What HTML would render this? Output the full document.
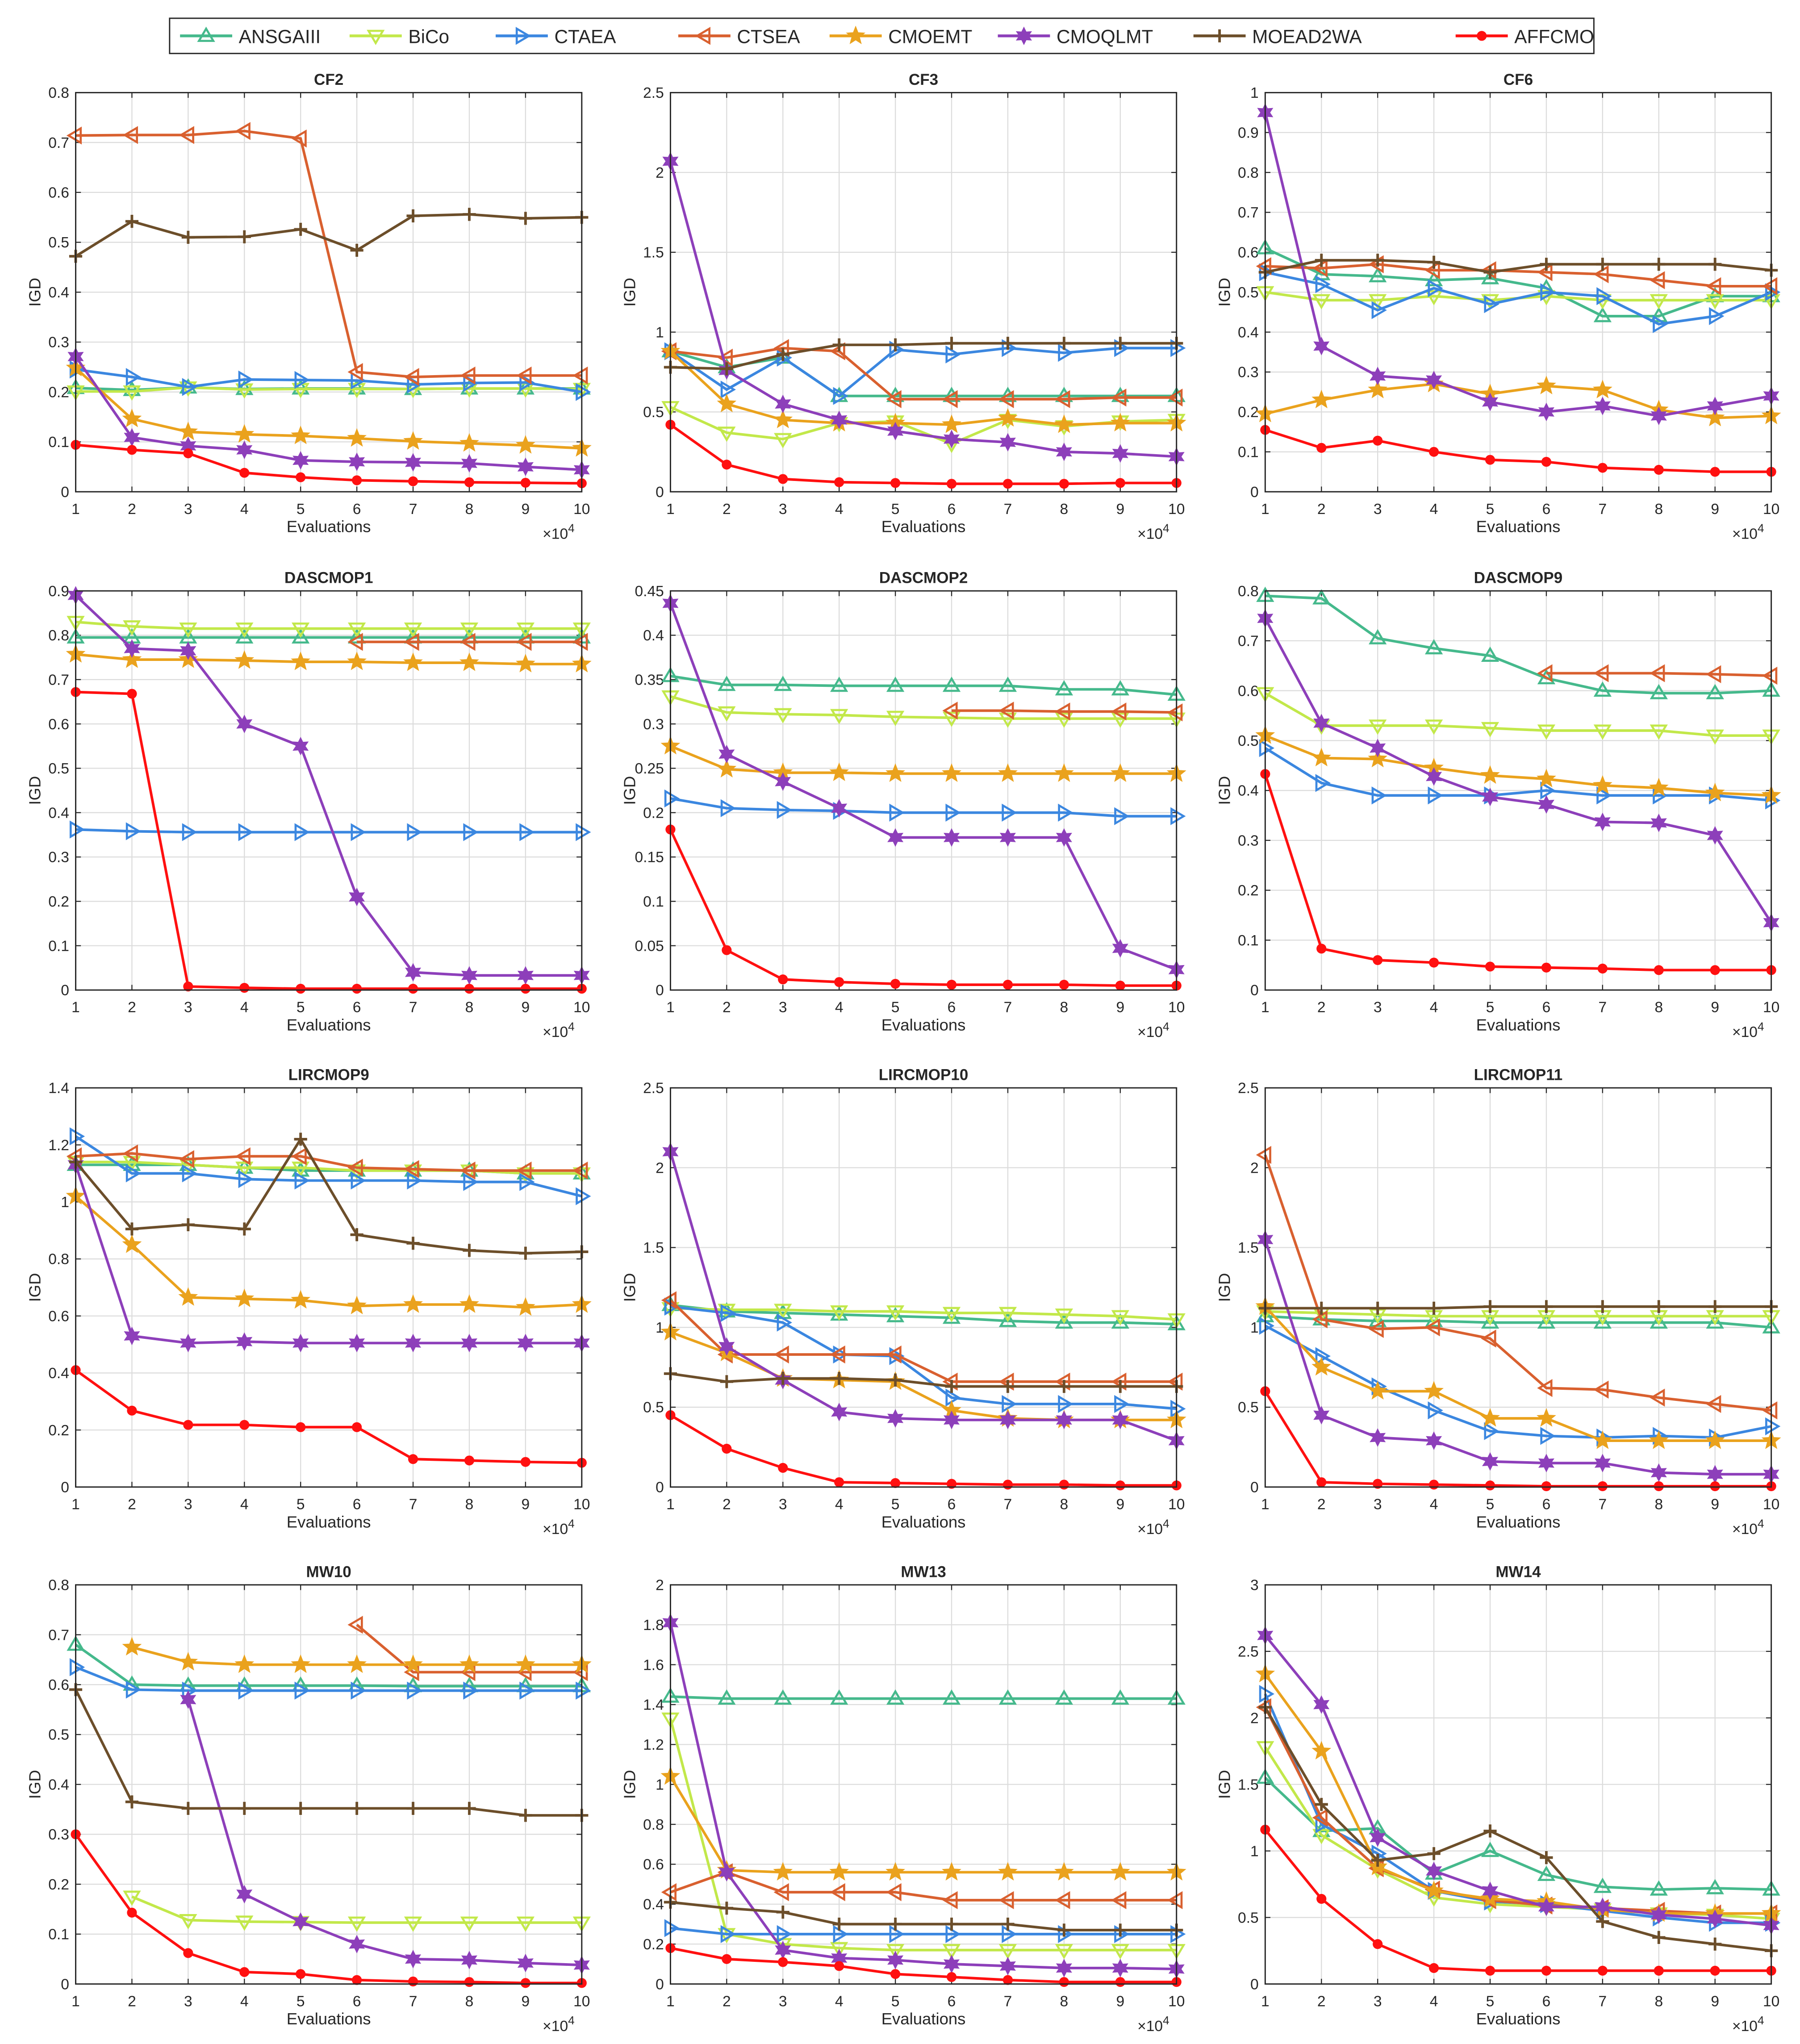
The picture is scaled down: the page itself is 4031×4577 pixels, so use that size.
<!DOCTYPE html>
<html><head><meta charset="utf-8"><style>
html,body{margin:0;padding:0;background:#fff}
svg{display:block}
text{font-family:"Liberation Sans",Arial,sans-serif;fill:#262626}
</style></head><body>
<svg id="fig" width="4031" height="4577" viewBox="0 0 1380 1567" xmlns="http://www.w3.org/2000/svg">
<rect width="1380" height="1567" fill="#fff"/>
</svg>
<script>
const algNames=["ANSGAIII","BiCo","CTAEA","CTSEA","CMOEMT","CMOQLMT","MOEAD2WA","AFFCMO"];
const algColors=["#45b98c","#c2e84a","#3b87e0","#d9602f","#eaa21d","#8d3fba","#6c4e2a","#ff1010"];
const algMarkers=["up","down","right","left","star","hex","plus","ast"];
const xVals=[1,2,3,4,5,6,7,8,9,10];
const N=null;
const titles=["CF2","CF3","CF6","DASCMOP1","DASCMOP2","DASCMOP9","LIRCMOP9","LIRCMOP10","LIRCMOP11","MW10","MW13","MW14"];
const yMaxes=[0.8,2.5,1,0.9,0.45,0.8,1.4,2.5,2.5,0.8,2,3];
const ySteps=[0.1,0.5,0.1,0.1,0.05,0.1,0.2,0.5,0.5,0.1,0.2,0.5];
const cf2=[
[.208,.204,.209,.206,.207,.207,.206,.207,.207,.207],
[.201,.201,.209,.205,.206,.206,.206,.207,.207,.206],
[.245,.230,.210,.225,.224,.223,.215,.218,.219,.200],
[.714,.715,.715,.723,.708,.240,.230,.233,.233,.233],
[.248,.146,.120,.115,.112,.107,.101,.097,.093,.087],
[.271,.109,.092,.084,.063,.060,.059,.057,.050,.044],
[.472,.542,.510,.511,.526,.484,.553,.556,.548,.550],
[.094,.084,.077,.038,.029,.023,.021,.019,.018,.017]];
const cf3=[
[.88,.78,.84,.60,.60,.60,.60,.60,.60,.60],
[.53,.37,.33,.43,.44,.30,.45,.41,.44,.45],
[.88,.64,.84,.60,.89,.86,.90,.87,.90,.90],
[.88,.84,.90,.88,.58,.58,.58,.58,.59,.59],
[.88,.55,.45,.43,.43,.42,.46,.42,.43,.43],
[2.07,.76,.55,.45,.38,.33,.31,.25,.24,.22],
[.78,.77,.86,.92,.92,.93,.93,.93,.93,.93],
[.42,.17,.08,.06,.055,.05,.05,.05,.055,.055]];
const cf6=[
[.61,.545,.54,.53,.535,.51,.44,.44,.49,.49],
[.50,.48,.48,.49,.48,.49,.48,.48,.48,.48],
[.55,.52,.455,.51,.47,.50,.49,.42,.44,.50],
[.565,.56,.57,.555,.555,.55,.545,.53,.515,.515],
[.195,.23,.255,.27,.245,.265,.255,.205,.185,.19],
[.95,.365,.29,.28,.225,.20,.215,.19,.215,.24],
[.55,.58,.58,.575,.55,.57,.57,.57,.57,.555],
[.155,.11,.128,.10,.08,.075,.06,.055,.05,.05]];
const dascmop1=[
[.795,.795,.795,.795,.795,.795,.795,.795,.795,.795],
[.83,.82,.815,.815,.815,.815,.815,.815,.815,.815],
[.362,.358,.356,.356,.356,.356,.356,.356,.356,.356],
[N,N,N,N,N,.785,.785,.785,.785,.785],
[.757,.745,.745,.743,.740,.740,.738,.738,.735,.735],
[.89,.77,.765,.60,.55,.21,.04,.033,.033,.033],
[N,N,N,N,N,N,N,N,N,N],
[.672,.668,.008,.005,.003,.003,.003,.003,.003,.003]];
const dascmop2=[
[.354,.344,.344,.343,.343,.343,.343,.339,.339,.333],
[.331,.313,.311,.310,.308,.307,.306,.306,.306,.306],
[.216,.205,.203,.202,.200,.200,.200,.200,.196,.196],
[N,N,N,N,N,.315,.315,.314,.314,.313],
[.275,.249,.245,.245,.244,.244,.244,.244,.244,.244],
[.436,.266,.235,.205,.172,.172,.172,.172,.047,.023],
[N,N,N,N,N,N,N,N,N,N],
[.181,.045,.012,.009,.007,.006,.006,.006,.005,.005]];
const dascmop9=[
[.79,.785,.705,.685,.67,.625,.60,.595,.595,.60],
[.595,.53,.53,.53,.525,.52,.52,.52,.51,.51],
[.485,.415,.39,.39,.39,.40,.39,.39,.39,.38],
[N,N,N,N,N,.635,.635,.635,.633,.63],
[.51,.465,.463,.445,.43,.423,.41,.405,.395,.39],
[.745,.535,.485,.428,.387,.372,.337,.335,.31,.135],
[N,N,N,N,N,N,N,N,N,N],
[.433,.083,.06,.055,.047,.045,.043,.04,.04,.04]];
const lircmop9=[
[1.13,1.13,1.13,1.12,1.11,1.11,1.11,1.11,1.10,1.10],
[1.14,1.14,1.13,1.12,1.12,1.11,1.11,1.11,1.10,1.10],
[1.23,1.10,1.10,1.08,1.075,1.075,1.075,1.07,1.07,1.02],
[1.16,1.17,1.15,1.16,1.16,1.12,1.115,1.11,1.11,1.11],
[1.02,.85,.665,.66,.655,.635,.64,.64,.63,.64],
[1.13,.53,.505,.51,.505,.505,.505,.505,.505,.505],
[1.14,.905,.92,.905,1.22,.885,.855,.83,.82,.825],
[.41,.268,.218,.218,.21,.21,.098,.093,.088,.085]];
const lircmop10=[
[1.14,1.10,1.09,1.08,1.07,1.06,1.04,1.03,1.03,1.02],
[1.12,1.11,1.11,1.10,1.10,1.09,1.09,1.08,1.07,1.05],
[1.13,1.09,1.03,.83,.82,.56,.52,.52,.52,.49],
[1.17,.83,.83,.83,.83,.66,.66,.66,.66,.66],
[.97,.84,.68,.67,.66,.48,.43,.42,.42,.42],
[2.1,.88,.67,.47,.43,.42,.42,.42,.42,.29],
[.71,.66,.68,.68,.67,.63,.63,.63,.63,.63],
[.45,.24,.12,.03,.025,.02,.015,.015,.01,.01]];
const lircmop11=[
[1.07,1.05,1.04,1.04,1.03,1.03,1.03,1.03,1.03,1.00],
[1.10,1.09,1.08,1.07,1.07,1.07,1.07,1.07,1.07,1.07],
[1.01,.82,.63,.48,.35,.32,.31,.32,.31,.38],
[2.08,1.05,.99,1.0,.93,.62,.61,.56,.52,.48],
[1.13,.75,.60,.60,.43,.43,.29,.29,.29,.29],
[1.55,.45,.31,.29,.16,.15,.15,.09,.08,.08],
[1.12,1.12,1.12,1.12,1.13,1.13,1.13,1.13,1.13,1.13],
[.60,.03,.02,.015,.01,.005,.005,.005,.005,.005]];
const mw10=[
[.68,.60,.598,.598,.598,.598,.597,.597,.597,.597],
[N,.175,.128,.125,.124,.123,.123,.123,.123,.123],
[.635,.59,.588,.588,.588,.588,.588,.588,.588,.588],
[N,N,N,N,N,.72,.625,.625,.625,.625],
[N,.675,.645,.64,.64,.64,.64,.64,.64,.64],
[N,N,.57,.18,.125,.08,.05,.048,.042,.038],
[.59,.365,.352,.352,.352,.352,.352,.352,.338,.338],
[.30,.143,.062,.024,.02,.008,.005,.004,.002,.002]];
const mw13=[
[1.44,1.43,1.43,1.43,1.43,1.43,1.43,1.43,1.43,1.43],
[1.33,.25,.2,.18,.17,.17,.17,.17,.17,.17],
[.28,.25,.25,.25,.25,.25,.25,.25,.25,.25],
[.46,.56,.46,.46,.46,.42,.42,.42,.42,.42],
[1.04,.57,.56,.56,.56,.56,.56,.56,.56,.56],
[1.81,.56,.17,.13,.12,.10,.09,.08,.08,.075],
[.41,.38,.36,.30,.30,.30,.30,.27,.27,.27],
[.18,.125,.11,.09,.05,.035,.02,.01,.01,.01]];
const mw14=[
[1.55,1.15,1.17,.83,1.0,.82,.73,.71,.72,.71],
[1.78,1.12,.86,.65,.60,.58,.56,.53,.52,.49],
[2.18,1.20,.98,.70,.62,.60,.55,.50,.46,.46],
[2.08,1.25,.87,.71,.63,.59,.57,.55,.53,.53],
[2.33,1.75,.88,.70,.64,.62,.56,.53,.53,.53],
[2.62,2.10,1.10,.85,.70,.58,.58,.52,.49,.44],
[2.08,1.35,.93,.98,1.15,.95,.47,.35,.30,.25],
[1.16,.64,.30,.12,.10,.10,.10,.10,.10,.10]];
const panelData=[cf2,cf3,cf6,dascmop1,dascmop2,dascmop9,lircmop9,lircmop10,lircmop11,mw10,mw13,mw14];

const NS="http://www.w3.org/2000/svg";
const svg=document.getElementById('fig');
function mk(tag,attrs,parent){const e=document.createElementNS(NS,tag);for(const k in attrs)e.setAttribute(k,attrs[k]);(parent||svg).appendChild(e);return e;}
function starPts(cx,cy,n,ro,ri,rot){let p=[];for(let i=0;i<2*n;i++){const r=i%2?ri:ro;const a=rot+Math.PI*i/n;p.push((cx+r*Math.sin(a)).toFixed(2)+','+(cy-r*Math.cos(a)).toFixed(2));}return p.join(' ');}
function marker(g,type,x,y,c){
  const s=5.5;let e;
  if(type==="up")e=mk('polygon',{points:`${x},${y-s} ${x+s},${y+s*0.7} ${x-s},${y+s*0.7}`,fill:'none',stroke:c,'stroke-width':1.6},g);
  else if(type==="down")e=mk('polygon',{points:`${x},${y+s} ${x+s},${y-s*0.7} ${x-s},${y-s*0.7}`,fill:'none',stroke:c,'stroke-width':1.6},g);
  else if(type==="right")e=mk('polygon',{points:`${x+s},${y} ${x-s*0.7},${y-s} ${x-s*0.7},${y+s}`,fill:'none',stroke:c,'stroke-width':1.6},g);
  else if(type==="left")e=mk('polygon',{points:`${x-s},${y} ${x+s*0.7},${y-s} ${x+s*0.7},${y+s}`,fill:'none',stroke:c,'stroke-width':1.6},g);
  else if(type==="star")e=mk('polygon',{points:starPts(x,y,5,6.5,2.8,0),fill:c,stroke:c,'stroke-width':1},g);
  else if(type==="hex")e=mk('polygon',{points:starPts(x,y,6,6,3.2,0),fill:c,stroke:c,'stroke-width':1},g);
  else if(type==="plus")e=mk('path',{d:`M${x-5},${y}H${x+5}M${x},${y-5}V${y+5}`,stroke:c,'stroke-width':2},g);
  else {e=mk('circle',{cx:x,cy:y,r:3.8,fill:c},g);}
  
  
}
function fmt(v){return String(parseFloat(v.toFixed(3)));}

// legend
const lg=mk('g',{});


mk('rect',{x:130,y:14,width:1092,height:27,fill:'#fff',stroke:'#262626','stroke-width':1},lg);
const legX=[138,268,380,520,636,765,915,1116];
algNames.forEach((n,i)=>{
  const g=mk('g',{},lg);
  
  
  const x0=legX[i];
  mk('line',{x1:x0,y1:27.5,x2:x0+40,y2:27.5,stroke:algColors[i],'stroke-width':2.2},g);
  marker(g,algMarkers[i],x0+20,27.5,algColors[i]);
  const t=mk('text',{x:x0+45,y:33,'font-size':14.5},g);t.textContent=n;
});

const colL=[58,514,970],rowT=[71,453,834,1215],W=388,H=306;
titles.forEach((title,p)=>{
  const L=colL[p%3],T=rowT[Math.floor(p/3)],B=T+H,R=L+W;
  const ymax=yMaxes[p],step=ySteps[p];
  const g=mk('g',{});
  
  
  const xs=v=>L+(v-1)/9*W, ys=v=>B-v/ymax*H;
  const nT=Math.round(ymax/step);
  for(let i=0;i<=nT;i++){const v=i*step,y=ys(v);
    if(i>0&&i<nT)mk('line',{x1:L,x2:R,y1:y,y2:y,stroke:'#dcdcdc','stroke-width':0.8},g);
    mk('line',{x1:L,x2:L+4,y1:y,y2:y,stroke:'#262626','stroke-width':0.8},g);
    mk('line',{x1:R-4,x2:R,y1:y,y2:y,stroke:'#262626','stroke-width':0.8},g);
    const t=mk('text',{x:L-5,y:y+4,'font-size':11.5,'text-anchor':'end'},g);t.textContent=fmt(v);
    
  }
  xVals.forEach(v=>{const x=xs(v);
    if(v>1&&v<10)mk('line',{x1:x,x2:x,y1:T,y2:B,stroke:'#dcdcdc','stroke-width':0.8},g);
    mk('line',{x1:x,x2:x,y1:B-4,y2:B,stroke:'#262626','stroke-width':0.8},g);
    mk('line',{x1:x,x2:x,y1:T,y2:T+4,stroke:'#262626','stroke-width':0.8},g);
    const t=mk('text',{x:x,y:B+17,'font-size':11.5,'text-anchor':'middle'},g);t.textContent=v;
    
  });
  panelData[p].forEach((ser,a)=>{
    const sg=mk('g',{},g);
    
    
    let d='',pen=false;
    ser.forEach((v,i)=>{if(v===null){pen=false;return;}d+=(pen?'L':'M')+xs(xVals[i]).toFixed(2)+','+ys(v).toFixed(2);pen=true;});
    if(d)mk('path',{d:d,fill:'none',stroke:algColors[a],'stroke-width':2},sg);
    ser.forEach((v,i)=>{if(v!==null)marker(sg,algMarkers[a],xs(xVals[i]),ys(v),algColors[a]);});
  });
  mk('rect',{x:L,y:T,width:W,height:H,fill:'none',stroke:'#262626','stroke-width':1},g);
  const tt=mk('text',{x:L+W/2,y:T-6,'font-size':12,'font-weight':'bold','text-anchor':'middle'},g);tt.textContent=title;
  
  const xl=mk('text',{x:L+W/2,y:B+31,'font-size':12.5,'text-anchor':'middle'},g);xl.textContent='Evaluations';
  
  const yl=mk('text',{x:0,y:0,'font-size':12.5,'text-anchor':'middle',transform:`translate(${L-27},${T+H/2}) rotate(-90)`},g);yl.textContent='IGD';
  
  const ex=mk('text',{x:R-30,y:B+36,'font-size':11.5},g);ex.textContent='×10';
  const sup=mk('tspan',{dy:-5,'font-size':9},ex);sup.textContent='4';
  
});
</script>
</body></html>
